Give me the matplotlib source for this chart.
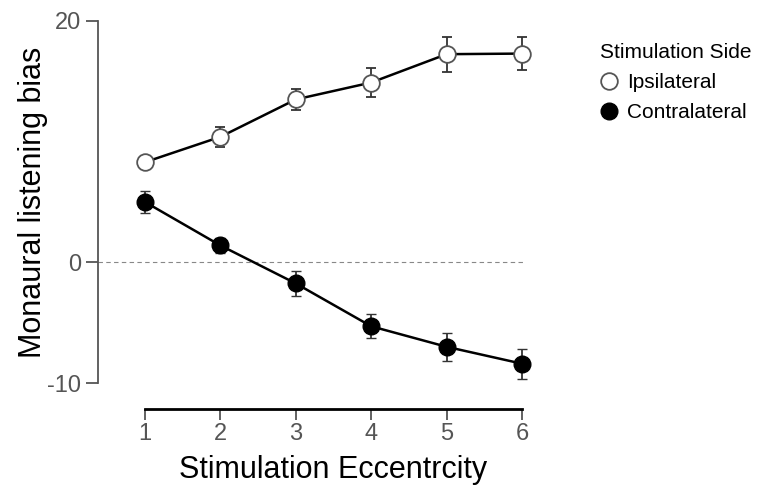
import matplotlib
matplotlib.use("Agg")
import matplotlib.pyplot as plt
from matplotlib.lines import Line2D

plt.rcParams['font.family'] = ['Liberation Sans', 'DejaVu Sans']
plt.rcParams['axes.unicode_minus'] = False

# data
eccentricity = [1, 2, 3, 4, 5, 6]
ipsi_mean = [8.3, 10.4, 13.5, 14.9, 17.25, 17.3]
ipsi_err = [0.4, 0.85, 0.9, 1.2, 1.45, 1.4]
contra_mean = [5.0, 1.4, -1.75, -5.3, -7.0, -8.4]
contra_err = [0.95, 0.6, 1.05, 1.0, 1.17, 1.25]
y_ticks = [-10, 0, 20]
series_labels = ["Ipsilateral", "Contralateral"]
legend_title = "Stimulation Side"

OPEN_EDGE = "#555555"
TICK_GRAY = "#555555"
MS = 12

###############################################################################

fig = plt.figure(figsize=(7.61, 4.87), dpi=100)
ax = fig.add_axes([98 / 761, 104 / 487, 427 / 761, 362 / 487])

ax.axhline(0, color="#888888", lw=0.8, ls=(0, (4, 3)), zorder=1)

ax.errorbar(eccentricity, ipsi_mean, yerr=ipsi_err, color="black", lw=1.8,
            ecolor="#333333", elinewidth=1.3, capsize=3.5, capthick=1.3,
            marker="o", ms=MS, mfc="white", mec=OPEN_EDGE, mew=1.3,
            clip_on=False, zorder=3)
ax.errorbar(eccentricity, contra_mean, yerr=contra_err, color="black", lw=1.8,
            ecolor="#333333", elinewidth=1.3, capsize=3.5, capthick=1.3,
            marker="o", ms=MS, mfc="black", mec="black", mew=1.0,
            clip_on=False, zorder=3)

ax.set_xlim(1 - 47 / 75.4, 1 + 380 / 75.4)
ax.set_ylim(-10, 20)
ax.set_xticks(eccentricity)
ax.set_yticks(y_ticks)

for s in ["top", "right"]:
    ax.spines[s].set_visible(False)
ax.spines["left"].set_color(TICK_GRAY)
ax.spines["left"].set_linewidth(1.3)
ax.spines["left"].set_bounds(-10, 20)
ax.spines["bottom"].set_position(("outward", 19))
ax.spines["bottom"].set_bounds(1, 6)
ax.spines["bottom"].set_linewidth(2.0)
ax.spines["bottom"].set_color("black")

ax.tick_params(axis="y", length=9, width=1.3, color=TICK_GRAY,
               labelcolor=TICK_GRAY, labelsize=17, pad=3)
ax.tick_params(axis="x", length=8, width=1.3, color=TICK_GRAY,
               labelcolor=TICK_GRAY, labelsize=17, pad=2)

ax.set_ylabel("Monaural listening bias", fontsize=22)
ax.set_xlabel("Stimulation Eccentrcity", fontsize=22)
ax.yaxis.set_label_coords(-0.118, 0.5)
ax.xaxis.set_label_coords((333 - 98) / 427, -0.20)

handles = [
    Line2D([], [], ls="", marker="o", ms=MS, mfc="white", mec=OPEN_EDGE, mew=1.3),
    Line2D([], [], ls="", marker="o", ms=MS, mfc="black", mec="black"),
]
leg = ax.legend(handles, series_labels, title=legend_title, loc="upper left",
                bbox_to_anchor=(585 / 761, 1 - 28 / 487),
                bbox_transform=fig.transFigure, frameon=False,
                fontsize=15, title_fontsize=15, handlelength=0.9,
                handletextpad=0.4, labelspacing=0.55, borderpad=0.2)
leg._legend_box.align = "left"

fig.savefig("out.png", dpi=100)
